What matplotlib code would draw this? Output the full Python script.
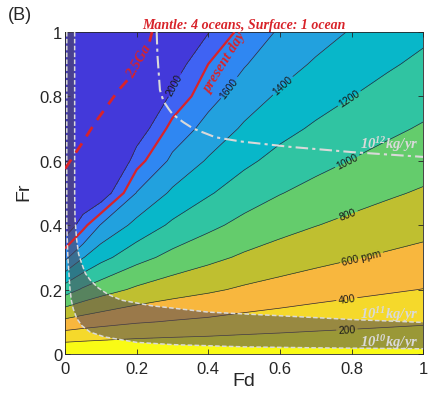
import numpy as np
import matplotlib
matplotlib.use("Agg")
import matplotlib.pyplot as plt

plt.rcParams['font.family'] = ['Liberation Sans', 'DejaVu Sans']
plt.rcParams['mathtext.default'] = 'regular'

# grid: CO2 (ppm) at Fr rows x Fd columns
fd_grid = [0, 0.05, 0.1, 0.2, 0.3, 0.4, 0.5, 0.6, 0.7, 0.8, 0.9, 1.0]
fr_grid = [0, 0.1, 0.2, 0.3, 0.4, 0.5, 0.6, 0.7, 0.8, 0.9, 1.0]
co2_ppm = [
    [0, 0, 0, 0, 0, 0, 0, 0, 0, 0, 0, 0],
    [549, 505, 472, 419, 387, 363, 332, 307, 282, 261, 242, 225],
    [1099, 973, 887, 766, 687, 630, 572, 527, 487, 453, 423, 396],
    [1648, 1411, 1264, 1069, 941, 852, 771, 709, 657, 613, 574, 539],
    [2198, 1870, 1585, 1342, 1164, 1046, 944, 867, 805, 753, 707, 666],
    [2747, 2260, 2170, 1591, 1367, 1220, 1099, 1008, 938, 879, 826, 779],
    [3297, 2620, 2520, 1880, 1553, 1380, 1241, 1138, 1060, 994, 936, 884],
    [3846, 2960, 2850, 2150, 1727, 1529, 1373, 1258, 1173, 1102, 1038, 981],
    [4396, 3300, 3150, 2400, 1950, 1668, 1497, 1370, 1278, 1202, 1133, 1073],
    [4945, 3630, 3430, 2620, 2130, 1799, 1614, 1476, 1378, 1297, 1224, 1159],
    [5495, 3950, 3700, 2850, 2300, 2010, 1724, 1577, 1473, 1387, 1310, 1241],
]
levels = [0, 200, 400, 600, 800, 1000, 1200, 1400, 1600, 1800, 2000, 10000]
labelled_levels = [200, 400, 600, 800, 1000, 1200, 1400, 1600, 2000]
present_day_ppm = 1800

# outgassing flux curves (Fd, Fr)
flux12_fd = [0.256, 0.258, 0.265, 0.275, 0.29, 0.30, 0.33, 0.358, 0.42, 0.49, 0.63, 0.80, 1.0]
flux12_fr = [1.0, 0.93, 0.82, 0.785, 0.76, 0.745, 0.72, 0.70, 0.673, 0.66, 0.643, 0.627, 0.612]
flux11_fd = [0.027, 0.027, 0.028, 0.032, 0.038, 0.047, 0.057, 0.07, 0.093, 0.12, 0.158, 0.24, 0.4, 0.63, 0.8, 1.0]
flux11_fr = [1.0, 0.5, 0.42, 0.36, 0.31, 0.28, 0.25, 0.23, 0.205, 0.185, 0.167, 0.15, 0.13, 0.117, 0.107, 0.098]
flux10_fd = [0.005, 0.005, 0.008, 0.011, 0.014, 0.018, 0.023, 0.033, 0.047, 0.07, 0.11, 0.2, 0.3, 0.5, 0.7, 1.0]
flux10_fr = [1.0, 0.4, 0.3, 0.25, 0.2, 0.165, 0.14, 0.11, 0.088, 0.068, 0.053, 0.036, 0.029, 0.022, 0.019, 0.016]

# 2.5 Ga line, gap where the label sits
ga_fd = [0.0, 0.045, 0.085, 0.15, 0.178, np.nan, 0.236, 0.243]
ga_fr = [0.575, 0.65, 0.72, 0.82, 0.855, np.nan, 0.97, 1.0]

ticks = [0, 0.2, 0.4, 0.6, 0.8, 1]
tick_labels = ['0', '0.2', '0.4', '0.6', '0.8', '1']

band_colors = ['#f9fb15', '#f5d92b', '#f8b73e', '#bfbf30', '#64cc6c', '#30c4a2',
               '#08b7c9', '#22a1de', '#2f87f2', '#3f63f3', '#4339da']

red = '#d8232a'
flux_gray = '#d9d9d9'
serif_bi = dict(family='Liberation Serif', fontweight='bold', style='italic')

fig = plt.figure(figsize=(4.29, 4.02), dpi=100)
ax = fig.add_axes([0.1515, 0.117, 0.835, 0.801])

z = np.array(co2_ppm, dtype=float)
ax.contourf(fd_grid, fr_grid, z, levels=levels, colors=band_colors)
cs = ax.contour(fd_grid, fr_grid, z, levels=labelled_levels, colors='#2e2e2e', linewidths=0.5)
ax.contour(fd_grid, fr_grid, z, levels=[present_day_ppm], colors=red, linewidths=1.6, zorder=4)

label_pos = [(0.787, 0.072), (0.787, 0.168), (0.83, 0.29), (0.79, 0.43), (0.787, 0.60),
             (0.79, 0.80), (0.61, 0.83), (0.455, 0.83), (0.30, 0.84)]
fmt = {lv: str(lv) for lv in labelled_levels}
fmt[600] = '600 ppm'
ax.clabel(cs, manual=label_pos, fmt=fmt, fontsize=7.5, colors='#1a1a1a',
          inline=True, inline_spacing=2)

# shaded band between 1e10 and 1e11 kg/yr
ax.fill(np.r_[flux11_fd, flux10_fd[::-1]], np.r_[flux11_fr, flux10_fr[::-1]],
        color=(0.30, 0.28, 0.33), alpha=0.55, lw=0, zorder=3)
ax.plot(flux11_fd, flux11_fr, color=flux_gray, lw=1.1, dashes=(3, 1.5), zorder=5)
ax.plot(flux10_fd, flux10_fr, color=flux_gray, lw=1.1, dashes=(3, 1.5), zorder=5)
ax.plot(flux12_fd, flux12_fr, color=flux_gray, lw=1.5, dashes=(6, 2, 1.5, 2), zorder=5)

ax.plot(ga_fd, ga_fr, color=red, lw=2, dashes=(4, 3), zorder=6)
ax.text(0.208, 0.91, '2.5Ga', color=red, fontsize=10.5, rotation=60,
        ha='center', va='center', zorder=6, **serif_bi)
ax.text(0.447, 0.905, 'present day', color=red, fontsize=10.5, rotation=58,
        ha='center', va='center', zorder=6, **serif_bi)

for y, txt in [(0.652, '10$^{12}$kg/yr'), (0.126, '10$^{11}$kg/yr'), (0.04, '10$^{10}$kg/yr')]:
    ax.text(0.905, y, txt, color=flux_gray, fontsize=10.5, ha='center', va='center',
            zorder=6, **serif_bi)

ax.set_xlim(0, 1)
ax.set_ylim(0, 1)
ax.set_xticks(ticks)
ax.set_xticklabels(tick_labels)
ax.set_yticks(ticks)
ax.set_yticklabels(tick_labels)
ax.tick_params(direction='in', top=True, right=True, length=3.5, width=0.6,
               labelsize=12, colors='#262626')
ax.tick_params(axis='x', pad=5)
ax.tick_params(axis='y', pad=2)
for sp in ax.spines.values():
    sp.set_color('#262626')
    sp.set_linewidth(0.6)

ax.set_xlabel('Fd', fontsize=14, color='#262626')
ax.set_ylabel('Fr', fontsize=14, color='#262626')
ax.xaxis.set_label_coords(0.5, -0.056)
ax.yaxis.set_label_coords(-0.092, 0.506)

ax.set_title('Mantle: 4 oceans, Surface: 1 ocean', color=red, fontsize=10, pad=3, **serif_bi)
fig.text(0.019, 0.962, '(B)', fontsize=13, ha='left', va='center', color='#262626')

fig.savefig('out.png', dpi=100)
